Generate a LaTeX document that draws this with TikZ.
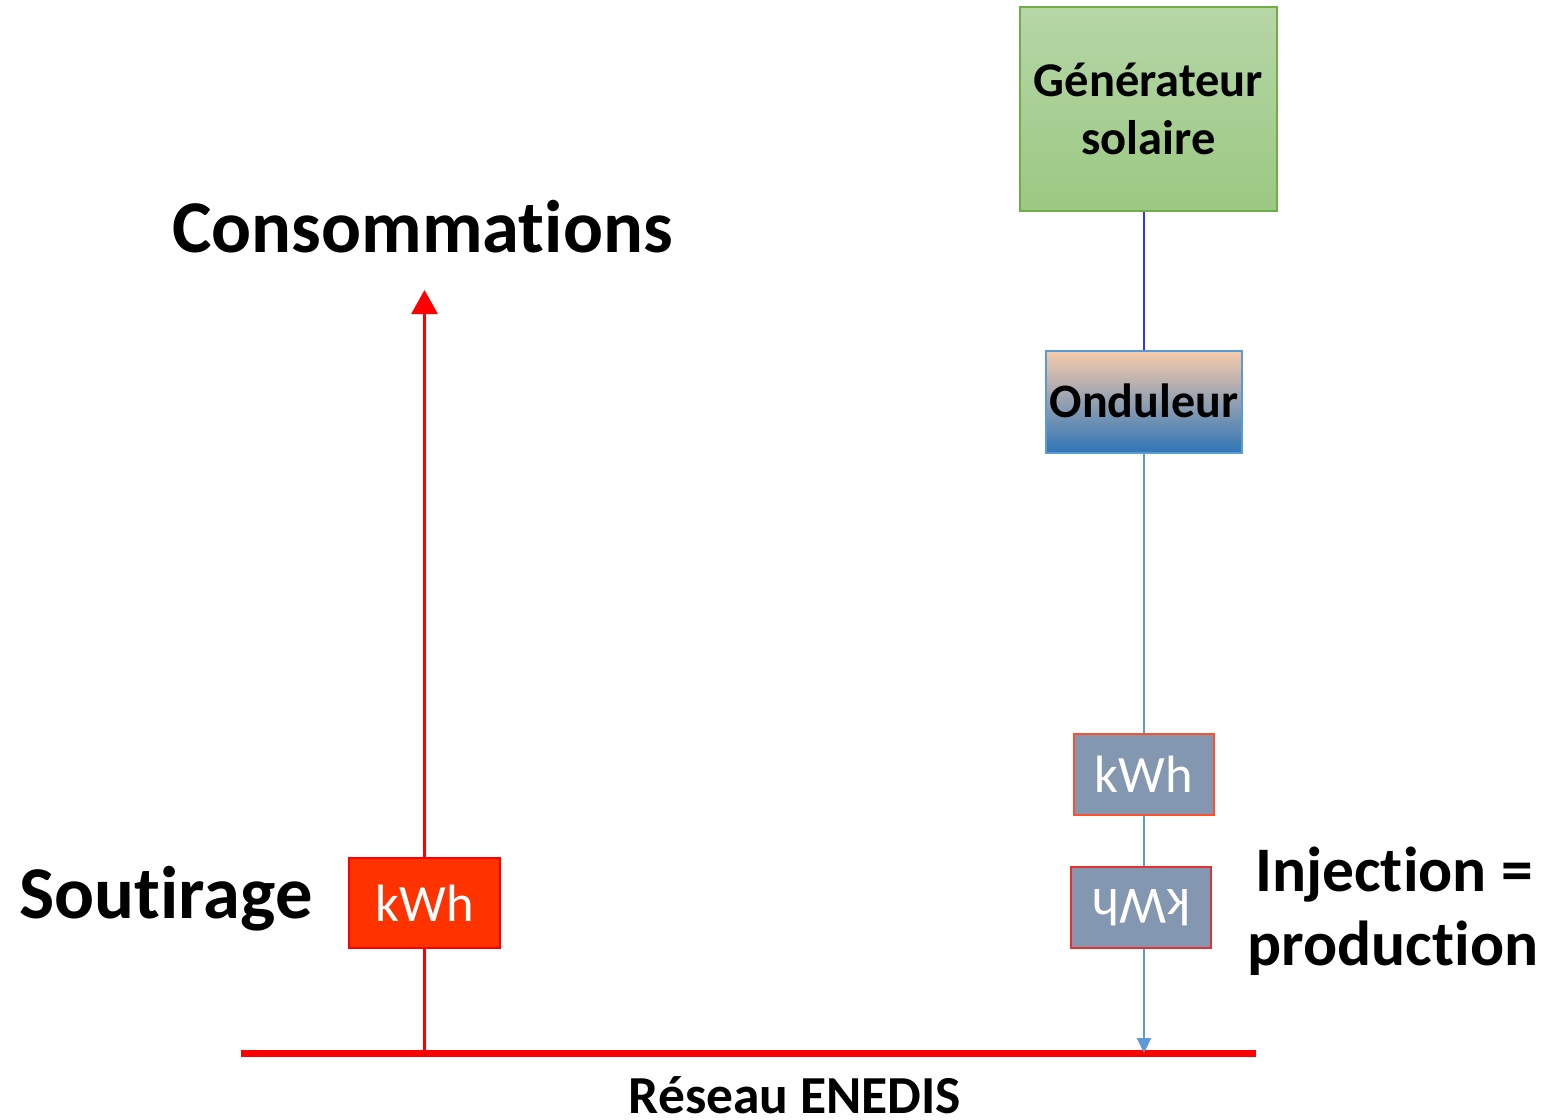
\documentclass[tikz,border=0pt]{standalone}
\usepackage{fontspec}
\setmainfont{Carlito}[Ligatures={NoCommon,NoContextual},RawFeature={-liga;-clig;-calt;-dlig}]
\usetikzlibrary{arrows.meta}
\newcommand\nolig{\kern0pt }
\definecolor{gtop}{RGB}{182,214,167}
\definecolor{gbot}{RGB}{155,200,130}
\definecolor{gborder}{RGB}{112,173,71}
\definecolor{otop}{RGB}{248,203,173}
\definecolor{obot}{RGB}{46,117,182}
\definecolor{oborder}{RGB}{91,155,213}
\definecolor{meterfill}{RGB}{132,151,176}
\definecolor{meterborderA}{RGB}{255,80,46}
\definecolor{meterborderB}{RGB}{232,48,48}
\definecolor{redmeter}{RGB}{255,51,0}
\definecolor{pvline}{RGB}{51,51,255}
\definecolor{acline}{RGB}{91,155,213}
\begin{document}
\begin{tikzpicture}[x=1bp,y=-1bp,
  bigtext/.style={font=\bfseries\fontsize{#1bp}{#1bp}\selectfont, inner sep=0pt, text=black},
  meter/.style={draw, line width=1.5bp, fill=meterfill, text=white, minimum width=140bp, minimum height=81bp, inner sep=0pt, font=\fontsize{52.5bp}{60bp}\selectfont},
]
\useasboundingbox (0,0) rectangle (1563,1119);

% boxes
\node[draw=gborder, line width=1.2bp, top color=gtop, bottom color=gbot, minimum width=257bp, minimum height=204bp, inner sep=0pt, align=center, font=\bfseries\fontsize{48.5bp}{58bp}\selectfont] (gen) at (1148.5,109) {Générateur\\solaire};
\node[draw=oborder, line width=1.2bp, top color=otop, bottom color=obot, minimum width=196bp, minimum height=102bp, inner sep=0pt, font=\bfseries\fontsize{48bp}{58bp}\selectfont] (ond) at (1144,402) {\raisebox{2bp}{Onduleur}};
\node[meter, draw=meterborderA] (k1) at (1144,774.5) {kWh};
\node[meter, draw=meterborderB, rotate=180] (k2) at (1141,907.5) {kWh};
\node[meter, draw=red, fill=redmeter, minimum width=151bp, minimum height=90bp] (ks) at (424.5,903) {kWh};

% grid
\coordinate (gl) at (241,1053);
\coordinate (gr) at (1256,1053);
\coordinate (tip) at (424.5,290);
\draw[red, line width=7bp] (gl) -- (gr);

% connectors
\draw[pvline, line width=2.2bp] (ond.north |- gen.south) -- (ond.north);
\draw[acline, line width=2bp] (ond.south) -- (k1.north);
\draw[acline, line width=2bp] (k1.south) -- (k1.south |- k2.south);
\draw[acline, line width=2bp, -{Triangle[width=14bp,length=15bp]}] (k1.south |- k2.north) -- (k1.south |- gl);
\draw[red, line width=3bp, -{Triangle[width=26bp,length=24bp]}] (ks.north) -- (tip);
\draw[red, line width=3bp] (ks.south) -- (ks.south |- gl);

% labels
\node[bigtext=74.5, anchor=base] (cons) at (422.5,252) {Consommat\nolig ions};
\node[bigtext=74.5, anchor=base] (sout) at (166,918) {Sout\nolig irage};
\node[bigtext=63.5, anchor=base] (inj1) at (1394,891) {Injection =};
\node[bigtext=63.5, anchor=base] (inj2) at (1393,965) {product\nolig ion};
\node[bigtext=53.5, anchor=base] (res) at (795,1113) {Réseau ENEDIS};
\end{tikzpicture}
\end{document}
